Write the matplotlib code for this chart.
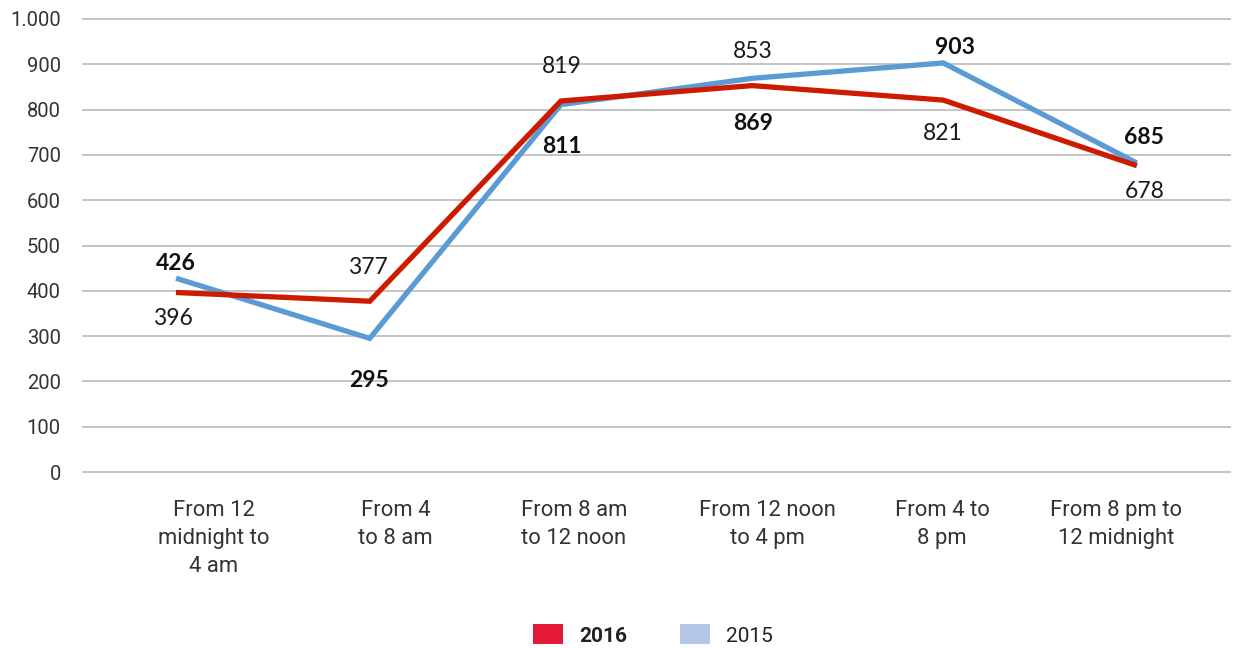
import matplotlib
matplotlib.use("Agg")
import matplotlib.pyplot as plt
from matplotlib.patches import Patch
from matplotlib.transforms import ScaledTranslation
import matplotlib.ticker as mticker

categories = ["From 12\nmidnight to\n4 am", "From 4\nto 8 am", "From 8 am\nto 12 noon",
              "From 12 noon\nto 4 pm", "From 4 to\n8 pm", "From 8 pm to\n12 midnight"]
values_2016 = [396, 377, 819, 853, 821, 678]
values_2015 = [426, 295, 811, 869, 903, 685]
yticks = [0, 100, 200, 300, 400, 500, 600, 700, 800, 900, 1000]

# layout (pixel offsets for labels)
lab16_off = [(-6, -26), (-2, 34), (1, 34), (1, 34), (0, -33), (10, -27)]
lab15_off = [(-3, 16), (-1, -42), (1, -42), (1, -45), (12, 15), (10, 24)]
xlab_dx = [35, 26, 13, 15, -1, -18]

RED = "#cc1b00"
BLUE = "#5b9bd5"
DPI = 100
fig = plt.figure(figsize=(12.45, 6.48), dpi=DPI)
ax = fig.add_axes([83/1245, 1 - 472/648, (1230-83)/1245, (472-19)/648])

x = list(range(len(categories)))
for yv in yticks:
    ax.axhline(yv, color="#c4c4c4", lw=1.4, zorder=0, clip_on=False)

ax.plot(x, values_2015, color=BLUE, lw=3.8, solid_joinstyle="miter", zorder=3, clip_on=False)
ax.plot(x, values_2016, color=RED, lw=3.8, solid_joinstyle="miter", zorder=4, clip_on=False)

ax.set_xlim(-0.5, len(categories) - 0.5)
ax.set_ylim(0, 1000)
ax.set_yticks(yticks)
ax.yaxis.set_major_formatter(mticker.FuncFormatter(lambda v, p: f"{int(v):,}".replace(",", ".")))
ax.tick_params(axis="y", length=0, pad=16, labelsize=14.5, labelcolor="#333333")
for t in ax.get_yticklabels():
    t.set_fontfamily("Roboto")

ax.set_xticks(x)
ax.set_xticklabels(categories, fontsize=15.8, color="#333333", fontfamily="Roboto", linespacing=1.45)
ax.tick_params(axis="x", length=0, pad=20)
for t, dx in zip(ax.get_xticklabels(), xlab_dx):
    t.set_transform(t.get_transform() + ScaledTranslation(dx / DPI, 0, fig.dpi_scale_trans))

for s in ax.spines.values():
    s.set_visible(False)

for i, (v, (dx, dy)) in enumerate(zip(values_2016, lab16_off)):
    ax.annotate(str(v), (i, v), xytext=(dx * 72 / DPI, dy * 72 / DPI), textcoords="offset points",
                ha="center", va="center", fontsize=16.5, fontfamily="Lato", color="#1a1a1a")
for i, (v, (dx, dy)) in enumerate(zip(values_2015, lab15_off)):
    ax.annotate(str(v), (i, v), xytext=(dx * 72 / DPI, dy * 72 / DPI), textcoords="offset points",
                ha="center", va="center", fontsize=16.5, fontfamily="Lato", fontweight="bold", color="#111111")

handles = [Patch(facecolor="#e31937", edgecolor="none"), Patch(facecolor="#b4c7e7", edgecolor="none")]
leg = fig.legend(handles, ["2016", "2015"], loc="center", bbox_to_anchor=(653/1245, 1 - 635/648),
                 ncol=2, frameon=False, handlelength=1.44, handleheight=1.1, handletextpad=0.8,
                 columnspacing=2.5, prop={"family": "Roboto", "size": 15})
for t in leg.get_texts():
    t.set_color("#222222")
leg.get_texts()[0].set_fontweight("bold")

fig.savefig("out.png", dpi=DPI)
